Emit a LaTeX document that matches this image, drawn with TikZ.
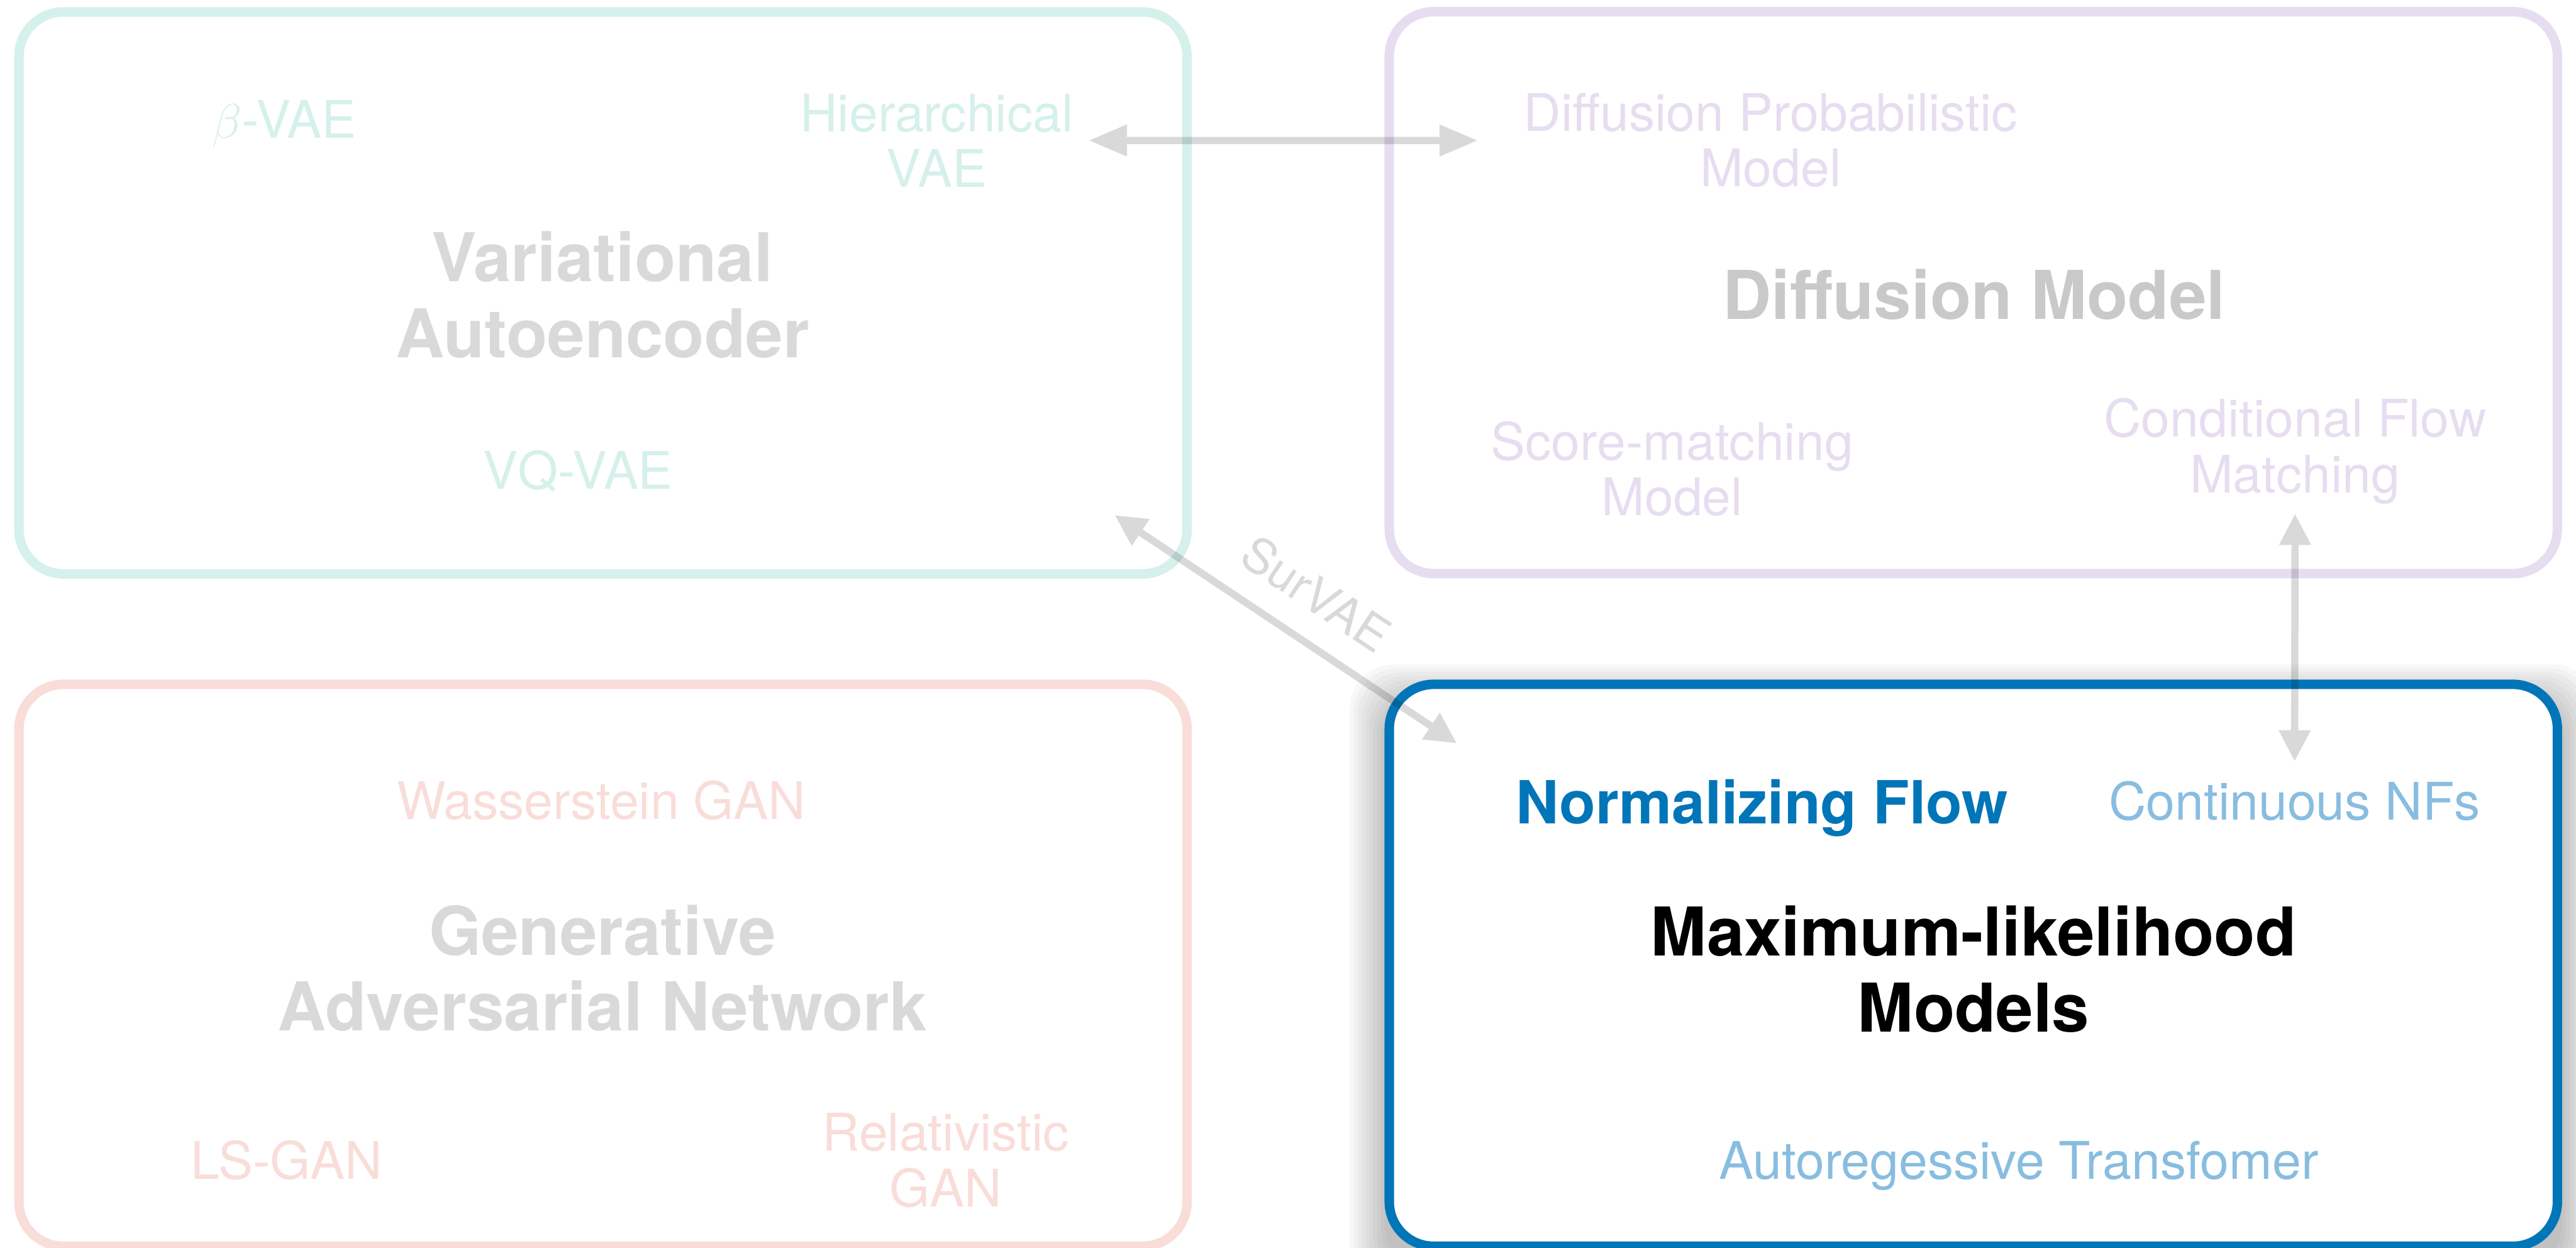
\documentclass[tikz,border=0pt]{standalone}
\usepackage{fontspec}
\setmainfont{TeX Gyre Heros}
\usetikzlibrary{arrows.meta,calc,backgrounds}

\definecolor{vaeteal}{HTML}{D6F0EB}
\definecolor{dmlilac}{HTML}{E7DDF0}
\definecolor{ganpink}{HTML}{F9DDD9}
\definecolor{mlblue}{HTML}{0075B8}
\definecolor{mllight}{HTML}{88BDE0}
\definecolor{fadegray}{HTML}{D9D9D9}
\definecolor{dmgray}{HTML}{C9C9C9}

\begin{document}
\begin{tikzpicture}[
    family/.style={draw, fill=white, rounded corners=0.8cm, line width=0.17cm,
        minimum width=21cm, minimum height=10.1cm, inner sep=0, outer sep=0},
    item/.style={font=\fontsize{26.5}{28.4}\selectfont, align=center, inner sep=0},
    title/.style={font=\bfseries\fontsize{34.4}{38.8}\selectfont, align=center,
        inner sep=0, text=fadegray},
    link/.style={<->, >={Triangle[length=0.56cm, width=0.54cm]},
        line width=0.13cm, draw=fadegray}
    ]
    \useasboundingbox (0,0) rectangle (46.31,22.42);
    % the four families
    \node[family, draw=vaeteal] (vae) at (10.84,17.155) {};
    \node[family, draw=dmlilac] (dm) at (35.475,17.16) {};
    \node[family, draw=ganpink] (gan) at (10.84,5.07) {};
    \node[family, draw=mlblue] (mlm) at (35.475,5.07) {};
    % soft shadow under the highlighted family, dropped a little
    \begin{scope}[on background layer]
        \foreach \s in {0.08,0.15,...,0.72}
            \fill[black, opacity=0.028, rounded corners=0.8cm]
                ($(mlm.north west)+(-\s,\s-0.35)$) rectangle ($(mlm.south east)+(\s,-\s-0.35)$);
    \end{scope}
    % VAE
    \node[item, text=vaeteal] (bvae) at (5.11,20.19) {$\beta$-VAE};
    \node[item, text=vaeteal] (hvae) at (16.84,19.895) {Hierarchical\\VAE};
    \node[title] (vaetitle) at (10.83,17.12) {Variational\\Autoencoder};
    \node[item, text=vaeteal] (vqvae) at (10.39,13.95) {VQ-VAE};
    % diffusion
    \node[item, text=dmlilac] (dpm) at (31.83,19.895) {Diffusion Probabilistic\\Model};
    \node[title, text=dmgray] (dmtitle) at (35.49,17.13) {Diffusion Model};
    \node[item, text=dmlilac] (smm) at (30.06,13.99) {Score-matching\\Model};
    \node[item, text=dmlilac] (cfm) at (41.26,14.31) {Conditional Flow\\Matching};
    % GAN
    \node[item, text=ganpink] (wgan) at (10.81,8.03) {Wasserstein GAN};
    \node[title] (gantitle) at (10.83,5.02) {Generative\\Adversarial Network};
    \node[item, text=ganpink] (lsgan) at (5.15,1.57) {LS-GAN};
    \node[item, text=ganpink] (rgan) at (17.00,1.565) {Relativistic\\GAN};
    % maximum likelihood
    \node[inner sep=0, text=mlblue, font=\bfseries\fontsize{30.4}{30.4}\selectfont]
        (nf) at (31.68,7.90) {Normalizing Flow};
    \node[item, text=mllight] (cnf) at (41.25,8.02) {Continuous NFs};
    \node[title, text=black] (mltitle) at (35.48,5.00) {Maximum-likelihood\\Models};
    \node[item, text=mllight] (art) at (36.29,1.47) {Autoregessive Transfomer};
    % links
    \coordinate (sva) at (20.04,13.16);
    \coordinate (svb) at (26.19,9.06);
    \begin{scope}[blend mode=multiply]
    \begin{scope}[transparency group]
        \draw[link, >={Triangle[length=0.69cm, width=0.54cm]},
            shorten <=0.27cm, shorten >=0.82cm] (hvae.east) -- (dpm.west);
        \draw[link] (sva) -- node[sloped, above=0.44cm, pos=0.514, inner sep=0,
            text=fadegray, font=\fontsize{24.5}{24.5}\selectfont] (survae) {SurVAE} (svb);
        \draw[link, shorten <=0.17cm, shorten >=0.35cm] (cfm.south) -- (cnf.north);
    \end{scope}
    \end{scope}
\end{tikzpicture}
\end{document}
